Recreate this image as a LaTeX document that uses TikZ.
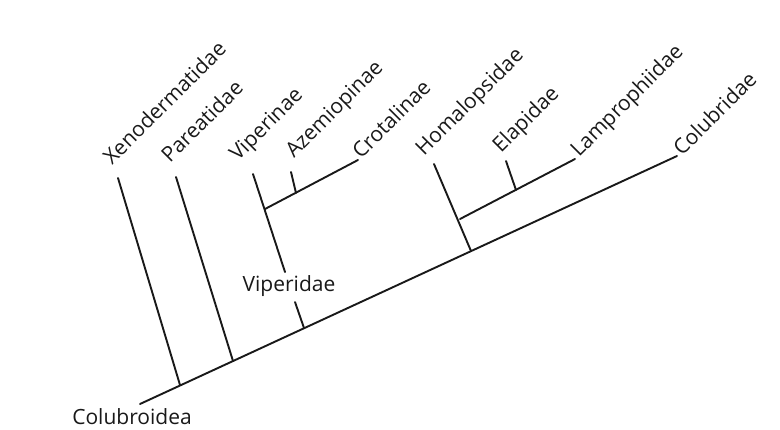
\documentclass[tikz,border=0pt]{standalone}
\usepackage{fontspec}
\setmainfont{Open Sans}
\begin{document}
\begin{tikzpicture}[x=1pt,y=-1pt,
  br/.style={line width=1.9pt, line cap=round, black!90},
  lab/.style={font=\fontsize{21}{25}\selectfont, text=black!90, inner sep=0pt},
  rlab/.style={lab, rotate=45, anchor=base west}]
\useasboundingbox (0,0) rectangle (780,429);
% main axis
\coordinate (root) at (140,404);
\coordinate (colE) at (677,156);
% attachment points on main axis
\coordinate (xenoB) at (180,385);
\coordinate (pareB) at (233,361);
\coordinate (vipB) at (304,328);
\coordinate (homB) at (471,251);
% tips
\coordinate (xenoT) at (118,178);
\coordinate (pareT) at (176,177);
\coordinate (viperT) at (253,174);
\coordinate (vipJ) at (265,209);
\coordinate (crotE) at (358,160);
\coordinate (azeT) at (291,172);
\coordinate (azeB) at (296,193);
\coordinate (homT) at (434,164);
\coordinate (elJ) at (460,219);
\coordinate (lamE) at (575,159);
\coordinate (elaT) at (506,161);
\coordinate (elaB) at (516,190);
\coordinate (vipU) at (285,272);
\coordinate (vipL) at (295,302);

\node[lab] (viperidae) at (289,286) {Viperidae};
\node[lab] (colubroidea) at (132,417) {Colubroidea};

\draw[br] (root) -- (colE);
\draw[br] (xenoB) -- (xenoT);
\draw[br] (pareB) -- (pareT);
\draw[br] (vipB) -- (vipL);
\draw[br] (viperT) -- (vipU);
\draw[br] (vipJ) -- (crotE);
\draw[br] (azeB) -- (azeT);
\draw[br] (homB) -- (homT);
\draw[br] (elJ) -- (lamE);
\draw[br] (elaB) -- (elaT);

\node[rlab] (xeno) at (112,166) {Xenodermatidae};
\node[rlab] (pare) at (170,164) {Pareatidae};
\node[rlab] (viperinae) at (238,162) {Viperinae};
\node[rlab] (aze) at (294,159) {Azemiopinae};
\node[rlab] (crot) at (361,160) {Crotalinae};
\node[rlab] (homa) at (424,157) {Homalopsidae};
\node[rlab] (elap) at (501,154) {Elapidae};
\node[rlab] (lamp) at (579,158) {Lamprophiidae};
\node[rlab] (colu) at (682,157) {Colubridae};
\end{tikzpicture}
\end{document}
